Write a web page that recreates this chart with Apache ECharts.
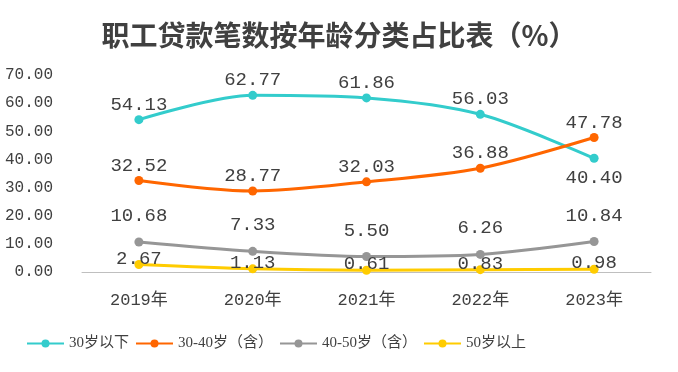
<!DOCTYPE html>
<html><head><meta charset="utf-8">
<script src="https://cdn.jsdelivr.net/npm/echarts@6/dist/echarts.min.js"></script>
<style>html,body{margin:0;padding:0;background:#fff}#c{width:678px;height:372px}</style>
</head><body><div id="c"></div>
<script>
const categories = ['2019年','2020年','2021年','2022年','2023年'];
const seriesNames = ['30岁以下','30-40岁（含）','40-50岁（含）','50岁以上'];
const under30 = [54.13, 62.77, 61.86, 56.03, 40.40];
const age30to40 = [32.52, 28.77, 32.03, 36.88, 47.78];
const age40to50 = [10.68, 7.33, 5.50, 6.26, 10.84];
const over50 = [2.67, 1.13, 0.61, 0.83, 0.98];
const yTicks = [0, 10, 20, 30, 40, 50, 60, 70];

const colors = ['#33CCCC', '#FF6600', '#969696', '#FFCC00'];
const monoFont = "'Liberation Mono', 'Noto Sans CJK SC', monospace";
const labelBase = {show: true, color: '#404040', fontFamily: monoFont, fontSize: 19,
  formatter: p => p.value.toFixed(2)};

function mk(name, data, color, distance) {
  return {
    name, type: 'line', data, smooth: 0.3, symbol: 'circle', symbolSize: 9,
    lineStyle: {color, width: 3}, itemStyle: {color},
    label: Object.assign({}, labelBase, {position: 'top', distance})
  };
}

const chart = echarts.init(document.getElementById('c'), null, {renderer: 'canvas'});
const under30Data = under30.map((v, i) => i === 4 ? {value: v, label: {position: 'bottom', distance: 6}} : v);
chart.setOption({
  animation: false,
  color: colors,
  title: {
    text: '职工贷款笔数按年龄分类占比表（%）', left: 'center', top: 16,
    textStyle: {fontFamily: "'Noto Sans CJK SC'", fontSize: 28, fontWeight: 'bold', color: '#404040'}
  },
  legend: {
    left: 21, top: 331, itemWidth: 37, itemHeight: 10, itemGap: 6,
    textStyle: {fontFamily: "'Liberation Serif', 'Noto Sans CJK SC'", fontSize: 15, color: '#404040'},
    data: seriesNames
  },
  grid: {left: 82, right: 27, top: 75, bottom: 100, containLabel: false},
  xAxis: {
    type: 'category', data: categories, boundaryGap: true,
    axisLine: {lineStyle: {color: '#BFBFBF', width: 1}},
    axisTick: {show: false},
    axisLabel: {color: '#404040', fontFamily: monoFont, fontSize: 17, margin: 20}
  },
  yAxis: {
    type: 'value', min: 0, max: 70, interval: 10,
    splitLine: {show: false}, axisLine: {show: false}, axisTick: {show: false},
    axisLabel: {color: '#404040', fontFamily: monoFont, fontSize: 16, margin: 29,
      formatter: v => v.toFixed(2)}
  },
  series: [
    mk(seriesNames[0], under30Data, colors[0], 1),
    mk(seriesNames[1], age30to40, colors[1], 1),
    mk(seriesNames[2], age40to50, colors[2], 12),
    mk(seriesNames[3], over50, colors[3], -8)
  ]
});
</script></body></html>
